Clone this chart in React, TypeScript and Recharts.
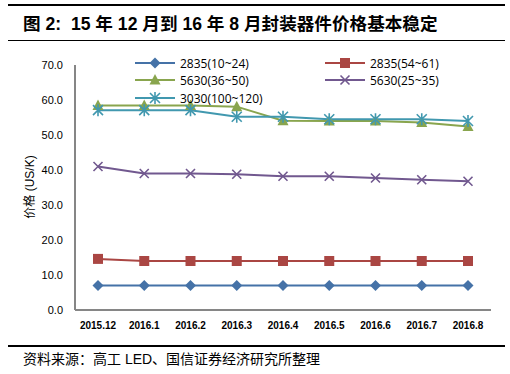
import { LineChart, Line, XAxis, YAxis } from "recharts"

const months = ["2015.12", "2016.1", "2016.2", "2016.3", "2016.4", "2016.5", "2016.6", "2016.7", "2016.8"]
const s2835a = [7, 7, 7, 7, 7, 7, 7, 7, 7]
const s2835b = [14.6, 14, 14, 14, 14, 14, 14, 14, 14]
const s5630a = [58.4, 58.4, 58.4, 58.1, 54.1, 54, 54, 53.6, 52.4]
const s5630b = [41, 39, 39, 38.8, 38.2, 38.2, 37.7, 37.2, 36.8]
const s3030 = [57.1, 57.1, 57.1, 55.2, 55.2, 54.5, 54.5, 54.5, 54]
const yTicks = [0, 10, 20, 30, 40, 50, 60, 70]

const data = months.map((m, i) => ({
    month: m,
    a: s2835a[i],
    b: s2835b[i],
    c: s5630a[i],
    d: s5630b[i],
    e: s3030[i],
}))

const BLUE = "#4572A7"
const RED = "#AA4643"
const GREEN = "#89A54E"
const PURPLE = "#71588F"
const CYAN = "#4198AF"

type Shape = "diamond" | "square" | "triangle" | "x" | "star"

function Marker({ shape, cx, cy, color }: { shape: Shape; cx: number; cy: number; color: string }) {
    if (shape === "diamond") {
        const r = 5.5
        return <path d={`M${cx},${cy - r}L${cx + r},${cy}L${cx},${cy + r}L${cx - r},${cy}Z`} fill={color} />
    }
    if (shape === "square") {
        return <rect x={cx - 5} y={cy - 5} width={10} height={10} fill={color} />
    }
    if (shape === "triangle") {
        return <path d={`M${cx},${cy - 6}L${cx + 5.5},${cy + 4.5}L${cx - 5.5},${cy + 4.5}Z`} fill={color} />
    }
    if (shape === "x") {
        const r = 4.5
        return (
            <path d={`M${cx - r},${cy - r}L${cx + r},${cy + r}M${cx - r},${cy + r}L${cx + r},${cy - r}`} stroke={color} strokeWidth={1.6} fill="none" />
        )
    }
    const r = 5
    return (
        <path
            d={`M${cx - r},${cy - r}L${cx + r},${cy + r}M${cx - r},${cy + r}L${cx + r},${cy - r}M${cx},${cy - r - 1}L${cx},${cy + r + 1}`}
            stroke={color}
            strokeWidth={1.6}
            fill="none"
        />
    )
}

const dotFor = (shape: Shape, color: string) => (props: any) => (
    <Marker key={`${shape}-${props.index}`} shape={shape} cx={props.cx} cy={props.cy} color={color} />
)

const legendItems: { name: string; shape: Shape; color: string; x: number; y: number }[] = [
    { name: "2835(10~24)", shape: "diamond", color: BLUE, x: 135, y: 63 },
    { name: "2835(54~61)", shape: "square", color: RED, x: 325, y: 63 },
    { name: "5630(36~50)", shape: "triangle", color: GREEN, x: 135, y: 80 },
    { name: "5630(25~35)", shape: "x", color: PURPLE, x: 325, y: 80 },
    { name: "3030(100~120)", shape: "star", color: CYAN, x: 135, y: 98 },
]

const CN = "'Liberation Sans', 'Noto Sans CJK SC', sans-serif"

export default function App() {
    return (
        <div style={{ position: "absolute", left: 0, top: 0, width: 510, height: 374, background: "#fff", fontFamily: CN }}>
            <div style={{ position: "absolute", left: 8, top: 4, width: 497, height: 2, background: "#000" }} />
            <div style={{ position: "absolute", left: 23, top: 10, fontSize: 17.6, fontWeight: "bold", color: "#000", whiteSpace: "nowrap" }}>
                图 2:&nbsp; 15 年 12 月到 16 年 8 月封装器件价格基本稳定
            </div>
            <div style={{ position: "absolute", left: 8, top: 40, width: 497, height: 1, background: "#000" }} />
            <div style={{ position: "absolute", left: 8, top: 345, width: 497, height: 2, background: "#000" }} />
            <div style={{ position: "absolute", left: 23, top: 348, fontSize: 14, color: "#000", whiteSpace: "nowrap" }}>
                资料来源：高工 LED、国信证券经济研究所整理
            </div>
            <div style={{ position: "absolute", left: 0, top: 0 }}>
                <LineChart width={510} height={374} data={data} margin={{ top: 65, right: 19, bottom: 34, left: 15 }}>
                    <XAxis
                        dataKey="month"
                        padding={{ left: 23, right: 23 }}
                        tickLine={false}
                        axisLine={{ stroke: "#868686", strokeWidth: 2 }}
                        tick={{ fontSize: 10, fontWeight: "bold", fill: "#000", fontFamily: "'Liberation Sans', sans-serif" }}
                        tickMargin={6}
                        interval={0}
                    />
                    <YAxis
                        width={60}
                        domain={[0, 70]}
                        ticks={yTicks}
                        tickFormatter={(v: number) => v.toFixed(1)}
                        tickLine={false}
                        axisLine={{ stroke: "#868686", strokeWidth: 2 }}
                        tick={{ fontSize: 11, fill: "#000", fontFamily: "'Liberation Sans', sans-serif" }}
                        tickMargin={6}
                    />
                    <Line dataKey="a" stroke={BLUE} strokeWidth={2} dot={dotFor("diamond", BLUE)} isAnimationActive={false} />
                    <Line dataKey="b" stroke={RED} strokeWidth={2} dot={dotFor("square", RED)} isAnimationActive={false} />
                    <Line dataKey="c" stroke={GREEN} strokeWidth={2} dot={dotFor("triangle", GREEN)} isAnimationActive={false} />
                    <Line dataKey="d" stroke={PURPLE} strokeWidth={2} dot={dotFor("x", PURPLE)} isAnimationActive={false} />
                    <Line dataKey="e" stroke={CYAN} strokeWidth={2} dot={dotFor("star", CYAN)} isAnimationActive={false} />
                </LineChart>
            </div>
            <div
                style={{
                    position: "absolute",
                    left: 30,
                    top: 187,
                    transform: "translate(-50%, -50%) rotate(-90deg)",
                    fontSize: 12,
                    color: "#000",
                    whiteSpace: "nowrap",
                    lineHeight: "14px",
                }}
            >
                价格 (US/K)
            </div>
            {legendItems.map((it) => (
                <div key={it.name} style={{ position: "absolute", left: it.x, top: it.y - 8, height: 16, display: "flex", alignItems: "center" }}>
                    <svg width={40} height={16}>
                        <line x1={0} y1={8} x2={40} y2={8} stroke={it.color} strokeWidth={2} />
                        <Marker shape={it.shape} cx={20} cy={8} color={it.color} />
                    </svg>
                    <span style={{ marginLeft: 5, fontSize: 12, color: "#000", fontFamily: "'Open Sans', sans-serif" }}>{it.name}</span>
                </div>
            ))}
        </div>
    )
}
